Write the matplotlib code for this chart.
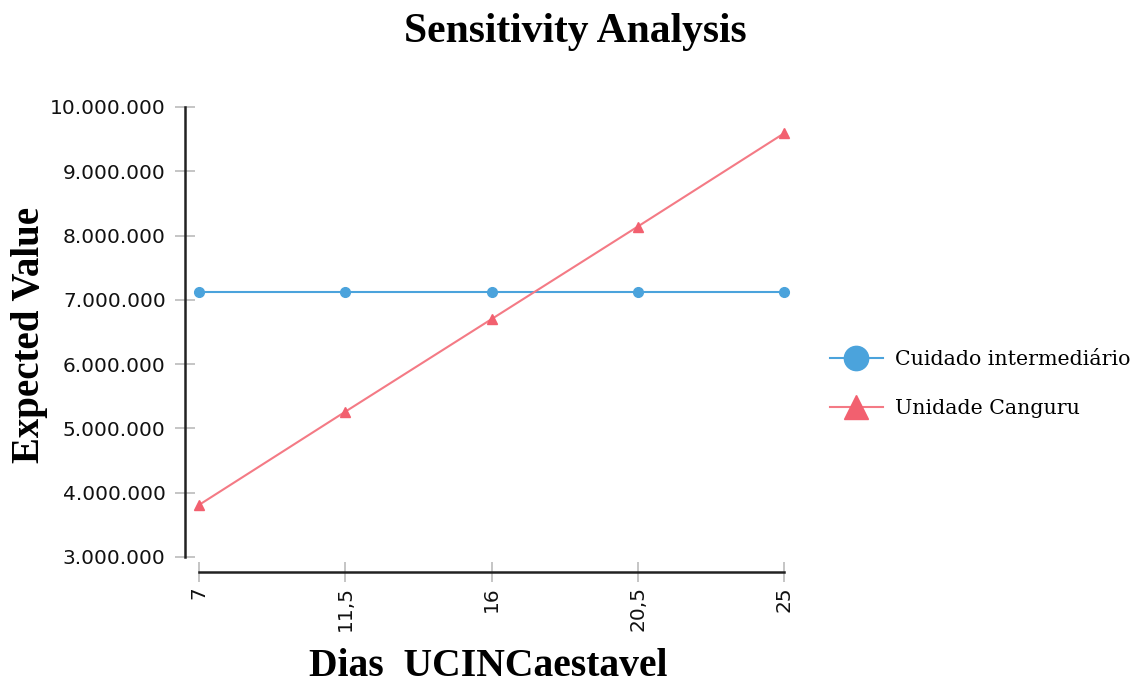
import matplotlib
matplotlib.use('Agg')
from matplotlib import pyplot as plt
from matplotlib.ticker import FuncFormatter

### DATA
dias = [7, 11.5, 16, 20.5, 25]
dias_labels = ['7', '11,5', '16', '20,5', '25']
cuidado_intermediario = [7120000, 7120000, 7120000, 7120000, 7120000]
unidade_canguru = [3810000, 5260000, 6700000, 8140000, 9590000]
y_ticks = [3000000, 4000000, 5000000, 6000000, 7000000, 8000000, 9000000, 10000000]

blue = '#4ba3dc'
red = '#f2606f'

### FIGURE
fig = plt.figure(figsize = (11.35, 6.85), dpi = 100)
ax = fig.add_axes([199 / 1135, 1 - 557 / 685, 585 / 1135, 450 / 685])

ax.plot(dias, cuidado_intermediario, color = blue, lw = 1.5, marker = 'o', ms = 7,
        mec = blue, mfc = blue, label = 'Cuidado intermediário', clip_on = False)
ax.plot(dias, unidade_canguru, color = '#f47a85', lw = 1.5, marker = '^', ms = 7,
        mec = red, mfc = red, label = 'Unidade Canguru', clip_on = False)

ax.set_xlim(7, 25)
ax.set_ylim(3000000, 10000000)
ax.set_xticks(dias, dias_labels)
ax.set_yticks(y_ticks)
ax.yaxis.set_major_formatter(FuncFormatter(lambda v, p: f'{int(v):,}'.replace(',', '.')))

for side in ('top', 'right'):
    ax.spines[side].set_visible(False)
ax.spines['left'].set_position(('outward', 10))
ax.spines['bottom'].set_position(('outward', 11))
for side in ('left', 'bottom'):
    ax.spines[side].set_linewidth(1.8)
    ax.spines[side].set_color('#222222')
ax.tick_params(axis = 'both', direction = 'inout', length = 14, width = 1.2, color = '#bbbbbb',
               labelcolor = '#111111', labelsize = 14.5)
ax.tick_params(axis = 'y', pad = 7)
ax.tick_params(axis = 'x', pad = 3, labelrotation = 90)

fig.text(575 / 1135, 1 - 32 / 685, 'Sensitivity Analysis', ha = 'center', va = 'center',
         family = 'Liberation Serif', weight = 'bold', fontsize = 30)
fig.text(30 / 1135, 1 - 335 / 685, 'Expected Value', ha = 'center', va = 'center', rotation = 90,
         family = 'Liberation Serif', weight = 'bold', fontsize = 28)
fig.text(488 / 1135, 1 - 666 / 685, 'Dias  UCINCaestavel', ha = 'center', va = 'center',
         family = 'Liberation Serif', weight = 'bold', fontsize = 28.5)

leg = fig.legend(loc = 'upper left', bbox_to_anchor = (811 / 1135, 1 - 332 / 685), frameon = False,
                 prop = {'family': 'DejaVu Serif', 'size': 14.8}, markerscale = 2.5,
                 handlelength = 2.6, labelspacing = 1.45, handletextpad = 0.6)

plt.savefig('out.png', dpi = 100)
